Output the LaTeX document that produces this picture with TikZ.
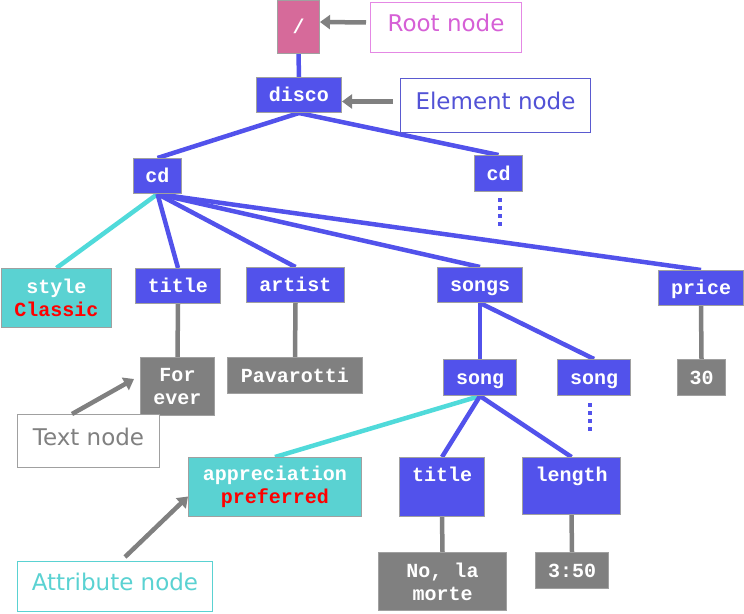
\documentclass[tikz,border=0pt]{standalone}
\usepackage{fontspec}
\setmainfont{DejaVu Sans}
\newfontfamily\codefont{Liberation Mono}
\usetikzlibrary{arrows.meta,backgrounds}
\definecolor{eblue}{RGB}{82,82,235}
\definecolor{acyan}{RGB}{90,210,210}
\definecolor{lcyan}{RGB}{80,218,218}
\definecolor{tgray}{RGB}{128,128,128}
\definecolor{rpink}{RGB}{214,106,154}
\definecolor{bord}{RGB}{160,160,160}
\definecolor{rtext}{RGB}{214,96,214}
\definecolor{rbord}{RGB}{228,136,228}
\definecolor{etext}{RGB}{82,82,214}
\definecolor{ebord}{RGB}{90,90,208}
\begin{document}
\begin{tikzpicture}[x=1pt,y=-1pt,
  box/.style={draw=bord, line width=1pt, inner sep=0pt, anchor=north west, text=white,
    font=\codefont\bfseries\fontsize{20}{23}\selectfont, align=center},
  oneline/.style={text height=14pt, text depth=1pt},
  elem/.style={box, fill=eblue},
  attr/.style={box, fill=acyan},
  txt/.style={box, fill=tgray},
  lbl/.style={draw, line width=1pt, inner sep=0pt, anchor=north west, fill=white,
    font=\fontsize{23}{27}\selectfont, text height=17pt, text depth=9pt},
  bl/.style={draw=eblue, line width=4.5pt},
  cl/.style={draw=lcyan, line width=4.5pt},
  gl/.style={draw=tgray, line width=4.5pt},
  arr/.style={draw=tgray, line width=4.5pt, -{Triangle[length=10pt,width=14pt]}},
  dotline/.style={draw=eblue, line width=4pt, dash pattern=on 4pt off 4pt}]
\useasboundingbox (0,0) rectangle (744,613);

% tree nodes
\node[box, fill=rpink, oneline, minimum width=42, minimum height=53] (root) at (277,0) {/};
\node[elem, oneline, minimum width=85, minimum height=35] (disco) at (256,77) {disco};
\node[elem, oneline, minimum width=48, minimum height=35] (cdA) at (133,158) {cd};
\node[elem, oneline, minimum width=48, minimum height=36] (cdB) at (474,155) {cd};
\node[attr, minimum width=110, minimum height=59] (style) at (1,268) {style\\\textcolor{red}{Classic}};
\node[elem, oneline, minimum width=85, minimum height=35] (titleA) at (135,268) {title};
\node[elem, oneline, minimum width=98, minimum height=35] (artist) at (246,267) {artist};
\node[elem, oneline, minimum width=85, minimum height=35] (songs) at (437,267) {songs};
\node[elem, oneline, minimum width=85, minimum height=35] (price) at (658,270) {price};
\node[txt, minimum width=74, minimum height=58] (forever) at (140,357) {For\\ever};
\node[txt, oneline, minimum width=135, minimum height=36] (pavarotti) at (227,357) {Pavarotti};
\node[txt, oneline, minimum width=48, minimum height=36] (thirty) at (677,359) {30};
\node[elem, oneline, minimum width=73, minimum height=36] (songA) at (443,359) {song};
\node[elem, oneline, minimum width=73, minimum height=36] (songB) at (557,359) {song};
\node[attr, minimum width=173, minimum height=59] (appr) at (188,457) {appreciation\\\textcolor{red}{preferred}};
\node[elem, text height=24pt, text depth=35pt, minimum width=85, minimum height=59] (titleB) at (399,457) {title};
\node[elem, text height=24pt, text depth=33pt, minimum width=98, minimum height=57] (length) at (522,457) {length};
\node[txt, minimum width=128, minimum height=58] (nolamorte) at (378,552) {No, la\\morte};
\node[txt, oneline, minimum width=73, minimum height=36] (tfifty) at (535,552) {3:50};

% legend labels
\node[lbl, draw=rbord, text=rtext, minimum width=151, minimum height=50] (rootlbl) at (370,2) {Root node};
\node[lbl, draw=ebord, text=etext, minimum width=190, minimum height=54] (elemlbl) at (400,78) {Element node};
\node[lbl, draw=bord, text=tgray, minimum width=142, minimum height=53] (textlbl) at (17,414) {Text node};
\node[lbl, draw=acyan, text=acyan, minimum width=195, minimum height=50] (attrlbl) at (17,561) {Attribute node};

\coordinate (cdBdA) at (500,198);
\coordinate (cdBdB) at (500,226);
\coordinate (songBdA) at (590,403);
\coordinate (songBdB) at (590,432);
\coordinate (tnS) at (72,414);
\coordinate (tnE) at (134,379);
\coordinate (anS) at (125,557);

\begin{scope}[on background layer]
\draw[bl] (root.south) -- (disco.north);
\draw[bl] (disco.south) -- (cdA.north);
\draw[bl] (disco.south) -- (cdB.north);
\draw[cl] (cdA.south) -- (style.north);
\draw[bl] (cdA.south) -- (titleA.north);
\draw[bl] (cdA.south) -- (artist.north);
\draw[bl] (cdA.south) -- (songs.north);
\draw[bl] (cdA.south) -- (price.north);
\draw[gl] (titleA.south) -- (forever.north);
\draw[gl] (artist.south) -- (pavarotti.north);
\draw[gl] (price.south) -- (thirty.north);
\draw[bl] (songs.south) -- (songA.north);
\draw[bl] (songs.south) -- (songB.north);
\draw[cl] (songA.south) -- (appr.north);
\draw[bl] (songA.south) -- (titleB.north);
\draw[bl] (songA.south) -- (length.north);
\draw[gl] (titleB.south) -- (nolamorte.north);
\draw[gl] (length.south) -- (tfifty.north);
\end{scope}

\draw[dotline] (cdBdA) -- (cdBdB);
\draw[dotline] (songBdA) -- (songBdB);

\draw[arr, shorten <=4pt] ([yshift=5pt]rootlbl.west) -- ([yshift=5pt]root.east);
\draw[arr, shorten <=7pt] ([yshift=4pt]elemlbl.west) -- ([yshift=-6.5pt]disco.east);
\draw[arr] (tnS) -- (tnE);
\draw[arr] (anS) -- ([yshift=-9.5pt]appr.west);
\end{tikzpicture}
\end{document}
